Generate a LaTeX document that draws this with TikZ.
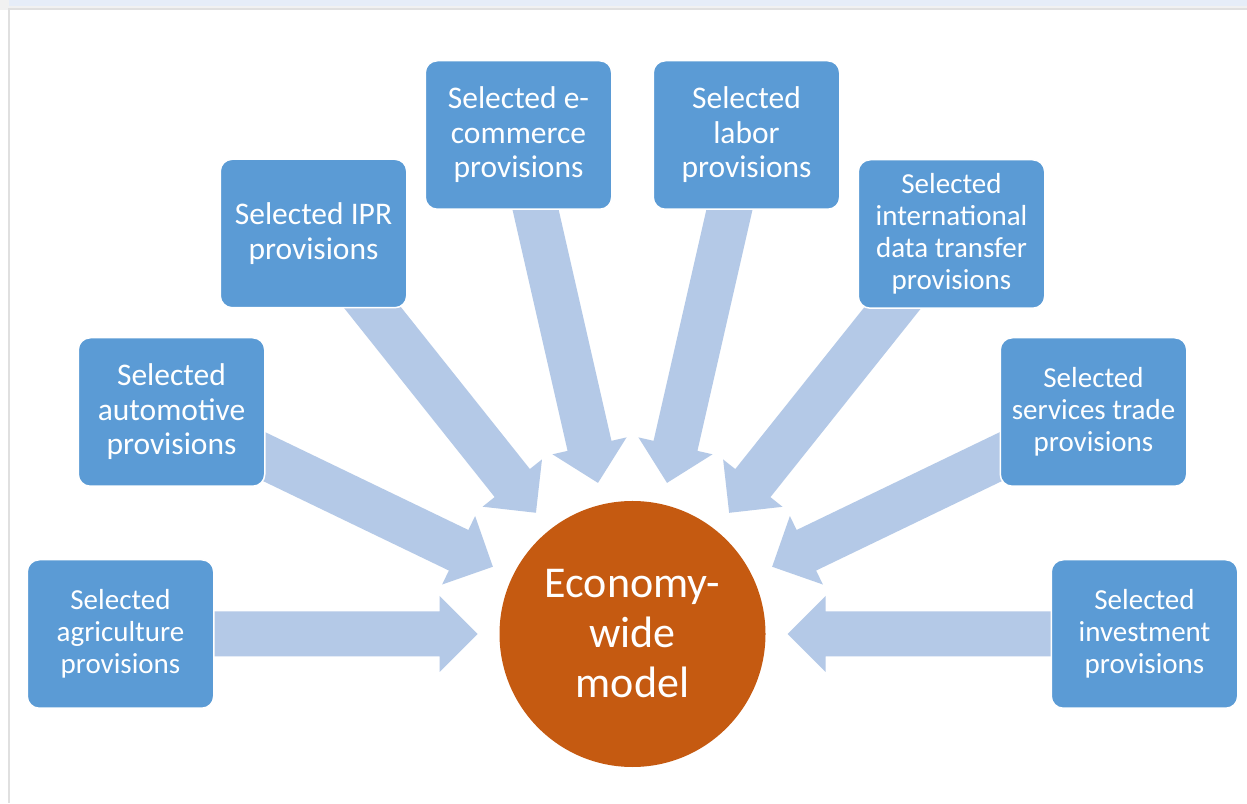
\documentclass[tikz,border=0pt]{standalone}
\usepackage{fontspec}
\setmainfont{Carlito}
\usetikzlibrary{calc}
\pgfdeclarelayer{background}
\pgfsetlayers{background,main}
\definecolor{boxblue}{RGB}{91,155,213}
\definecolor{arrowblue}{RGB}{180,201,231}
\definecolor{circorange}{RGB}{197,90,17}
\definecolor{topband}{RGB}{230,237,248}
\definecolor{framegray}{RGB}{224,224,224}
\definecolor{framelight}{RGB}{241,241,241}
\begin{document}
\begin{tikzpicture}[x=1pt,y=1pt,
  provbox/.style={rectangle, rounded corners=12pt, minimum width=186.5pt, minimum height=148.5pt, inner sep=0pt, fill=boxblue, draw=white, line width=1.5pt, text=white, align=center},
  smalltext/.style={font=\fontsize{29}{32}\selectfont},
  bigtext/.style={font=\fontsize{31.5}{34.5}\selectfont},
  hub/.style={circle, minimum size=266pt, inner sep=0pt, fill=circorange, text=white, align=center, font=\fontsize{44}{50}\selectfont},
  blockarrow/.style={fill=arrowblue}
]
\useasboundingbox (0,0) rectangle (1247,803);

\node[hub] (eco) at (632.5,169) {Economy-\\wide\\model};

\node[provbox, smalltext] (agri)  at (120.5,169)  {Selected\\agriculture\\provisions};
\node[provbox, bigtext]   (auto)  at (171.5,391)  {Selected\\automotive\\provisions};
\node[provbox, bigtext]   (ipr)   at (313.5,569.5){Selected IPR\\provisions};
\node[provbox, bigtext]   (ecom)  at (518.5,668)  {Selected e-\\commerce\\provisions};
\node[provbox, bigtext]   (labor) at (746.5,668)  {Selected\\labor\\provisions};
\node[provbox, smalltext] (data)  at (951.5,569)  {Selected\\international\\data transfer\\provisions};
\node[provbox, smalltext] (serv)  at (1093.5,391) {Selected\\services trade\\provisions};
\node[provbox, smalltext] (inv)   at (1144.5,169) {Selected\\investment\\provisions};

\begin{pgfonlayer}{background}
  \fill[white] (0,0) rectangle (1247,803);
  \fill[framelight] (0,793) rectangle (1247,803);
  \fill[topband] (9,797) rectangle (1247,803);
  \fill[framegray] (8,793) rectangle (1247,794.5);
  \fill[framegray] (8,0) rectangle (9.8,794.5);
  \foreach \b in {agri,auto,ipr,ecom,labor,data,serv,inv}{
    \coordinate (hb) at ($(eco.center)!193pt!(\b.center)$);
    \coordinate (tp) at ($(eco.center)!155pt!(\b.center)$);
    \fill[blockarrow] ($(\b.center)!22.5pt!90:(eco.center)$)
      -- ($(hb)!22.5pt!90:(eco.center)$)
      -- ($(hb)!38pt!90:(eco.center)$)
      -- (tp)
      -- ($(hb)!38pt!-90:(eco.center)$)
      -- ($(hb)!22.5pt!-90:(eco.center)$)
      -- ($(\b.center)!22.5pt!-90:(eco.center)$) -- cycle;
  }
\end{pgfonlayer}
\end{tikzpicture}
\end{document}
